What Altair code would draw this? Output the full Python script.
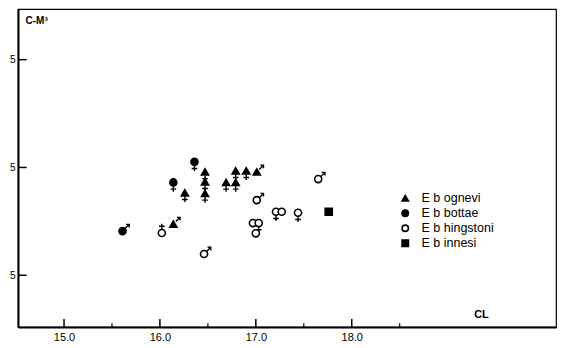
import altair as alt
import pandas as pd

species_names = ["E b ognevi", "E b bottae", "E b hingstoni", "E b innesi"]

ognevi_cl = [16.26, 16.47, 16.47, 16.47, 16.14, 16.69, 16.79, 16.79, 16.90, 17.01]
ognevi_cm = [2.265, 2.459, 2.367, 2.259, 1.975, 2.361, 2.469, 2.361, 2.469, 2.459]
ognevi_sex = ["F", "F", "F", "F", "M", "F", "F", "F", "F", "M"]

bottae_cl = [16.36, 16.14, 15.61]
bottae_cm = [2.552, 2.361, 1.910]
bottae_sex = ["F", "F", "M"]

hingstoni_cl = [16.02, 17.01, 16.97, 17.03, 17.00, 17.21, 17.27, 17.44, 17.65, 16.46]
hingstoni_cm = [1.892, 2.197, 1.984, 1.984, 1.889, 2.089, 2.089, 2.080, 2.392, 1.697]
hingstoni_sex = ["Fu", "M", "", "F", "", "F", "", "F", "M", "M"]

innesi_cl = [17.76]
innesi_cm = [2.089]
innesi_sex = [""]

x_major = [15.0, 16.0, 17.0, 18.0]
x_minor = [15.5, 16.5, 17.5, 18.5]
y_major = [1.5, 2.5, 3.5]

x_dom = [14.52, 20.13]
y_dom = [1.02, 3.97]

rows = []
for name, cl, cm, sx in zip(
    species_names,
    [ognevi_cl, bottae_cl, hingstoni_cl, innesi_cl],
    [ognevi_cm, bottae_cm, hingstoni_cm, innesi_cm],
    [ognevi_sex, bottae_sex, hingstoni_sex, innesi_sex],
):
    for a, b, s in zip(cl, cm, sx):
        rows.append({"species": name, "CL": a, "CM": b, "sex": s})
df = pd.DataFrame(rows)

xs = alt.Scale(domain=x_dom, nice=False, zero=False)
ys = alt.Scale(domain=y_dom, nice=False, zero=False)

font = "Liberation Sans"

points = alt.Chart(df).mark_point(size=50, strokeWidth=1.6, opacity=1, stroke="black").encode(
    x=alt.X("CL:Q", scale=xs, axis=alt.Axis(
        values=x_major, format=".1f", ticks=False, grid=False,
        domainColor="black", domainWidth=2,
        labelFont=font, labelFontSize=11, labelColor="black", labelPadding=4,
        title="CL", titleFont=font, titleFontSize=11, titleFontWeight="bold",
        titleColor="black", titleX=463, titleY=-13, titleAlign="center",
        titleBaseline="middle")),
    y=alt.Y("CM:Q", scale=ys, axis=alt.Axis(
        values=y_major, format=".1f", labelExpr="slice(datum.label, -1)",
        ticks=False, grid=False, domainColor="black", domainWidth=2,
        labelFont=font, labelFontSize=10, labelColor="black", labelPadding=3,
        title="C-M³", titleFont=font, titleFontSize=10, titleFontWeight="bold",
        titleColor="black", titleAngle=0, titleX=7, titleY=11,
        titleAlign="left", titleBaseline="middle")),
    shape=alt.Shape("species:N", scale=alt.Scale(
        domain=species_names,
        range=["triangle-up", "circle", "circle", "square"]),
        legend=alt.Legend(title=None, orient="none", legendX=381, legendY=183,
                          labelFont=font, labelFontSize=12.5, labelColor="black",
                          symbolSize=40, symbolStrokeWidth=1.6, rowPadding=1,
                          labelOffset=10, padding=0)),
    fill=alt.Fill("species:N", scale=alt.Scale(
        domain=species_names, range=["black", "black", "white", "black"])),
)

tail_paths = {
    "F": "M0,1L0,2.6M-0.8,1.9L0.8,1.9",
    "M": "M0.7,-0.7L1.9,-1.9M1.0,-1.9L1.9,-1.9L1.9,-1.0",
    "Fu": "M0,-1L0,-2.6M-0.8,-1.9L0.8,-1.9",
}
tail_layers = []
for code, path in tail_paths.items():
    tail_layers.append(
        alt.Chart(df).transform_filter(f"datum.sex == '{code}'").mark_point(
            shape=path, size=50, strokeWidth=1.4, filled=False,
            color="black", opacity=1
        ).encode(x=alt.X("CL:Q", scale=xs), y=alt.Y("CM:Q", scale=ys))
    )

xt_major = pd.DataFrame({"v": x_major, "a": y_dom[0], "b": y_dom[0] + 0.075})
xt_minor = pd.DataFrame({"v": x_minor, "a": y_dom[0], "b": y_dom[0] + 0.035})
yt_major = pd.DataFrame({"v": y_major, "a": x_dom[0], "b": x_dom[0] + 0.09})

xtick1 = alt.Chart(xt_major).mark_rule(color="black", strokeWidth=1.5).encode(
    x=alt.X("v:Q", scale=xs), y=alt.Y("a:Q", scale=ys), y2="b:Q")
xtick2 = alt.Chart(xt_minor).mark_rule(color="black", strokeWidth=1.2).encode(
    x=alt.X("v:Q", scale=xs), y=alt.Y("a:Q", scale=ys), y2="b:Q")
ytick = alt.Chart(yt_major).mark_rule(color="black", strokeWidth=1.5).encode(
    y=alt.Y("v:Q", scale=ys), x=alt.X("a:Q", scale=xs), x2="b:Q")

chart = alt.layer(xtick1, xtick2, ytick, *tail_layers, points).properties(
    width=538, height=318,
    autosize=alt.AutoSizeParams(type="none"),
    padding={"left": 10, "top": 1, "right": 1, "bottom": 20},
    background="white",
).configure_view(stroke="black", strokeWidth=1.2)

chart.save("out.html", embed_options={"renderer": "svg", "actions": False})
